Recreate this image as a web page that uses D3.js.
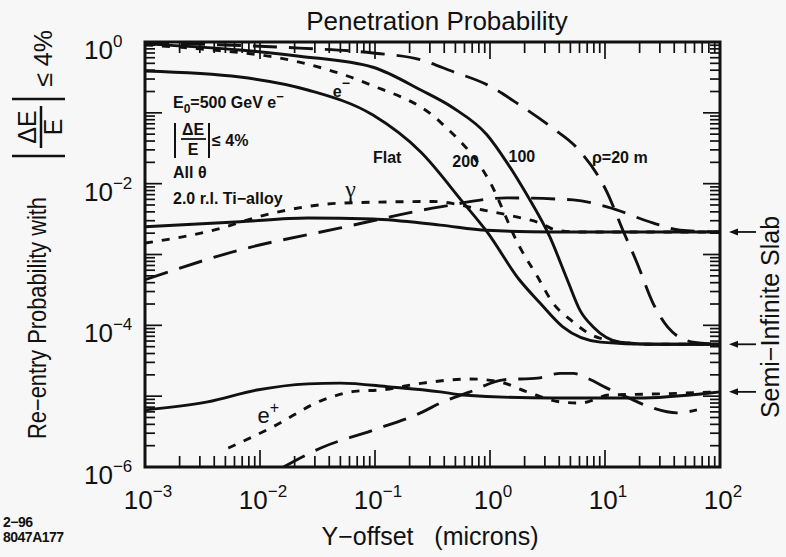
<!DOCTYPE html>
<html>
<head>
<meta charset="utf-8">
<script src="https://cdn.jsdelivr.net/npm/d3@7"></script>
<style>
body { margin: 0; background: #f7f7f7; }
svg { display: block; font-family: "Liberation Sans", Arial, Helvetica, sans-serif; }
.curve { fill: none; stroke: #111; stroke-width: 2.9; stroke-linejoin: round; }
.note { font-size: 16px; font-weight: bold; fill: #111; }
</style>
</head>
<body>
<svg id="chart" width="786" height="557"></svg>
<script>
// values: [Y-offset (microns), probability]
var eMinusFlat = [[1e-3, 0.39], [6.7e-3, 0.32], [0.026, 0.21], [0.096, 0.093], [0.25, 0.028],
	[0.58, 5.5e-3], [0.94, 2.1e-3], [1.8, 4.4e-4], [2.7, 2.1e-4], [4.3, 9.5e-5], [9.1, 5.8e-5],
	[25, 5.4e-5], [100, 5.4e-5]];
var eMinus200 = [[1e-3, 0.91], [3e-3, 0.8], [0.022, 0.52], [0.085, 0.26], [0.37, 0.074],
	[1.0, 0.0105], [1.8, 1.3e-3], [2.6, 4.8e-4], [3.5, 2.1e-4], [5.0, 1.2e-4], [9.0, 6.6e-5],
	[25, 5.4e-5], [100, 5.4e-5]];
var eMinus100 = [[1e-3, 0.94], [6.7e-3, 0.77], [0.022, 0.63], [0.096, 0.44], [0.25, 0.21],
	[0.48, 0.117], [0.94, 0.049], [1.4, 0.02], [2.1, 6.9e-3], [3.3, 1.8e-3], [4.7, 4.4e-4],
	[6.1, 1.6e-4], [7.9, 9.5e-5], [13.5, 5.8e-5], [30, 5.4e-5], [100, 5.4e-5]];
var eMinus20m = [[1e-3, 0.97], [0.022, 0.82], [0.096, 0.7], [0.25, 0.56], [0.48, 0.38],
	[0.94, 0.25], [1.8, 0.13], [3.5, 0.061], [5.7, 0.032], [10.4, 7.6e-3], [14.3, 2.2e-3],
	[19, 7.6e-4], [26, 2.1e-4], [35, 9.5e-5], [58, 5.8e-5], [100, 5.4e-5]];

var gammaFlat = [[1e-3, 2.47e-3], [6.7e-3, 2.9e-3], [0.026, 3.27e-3], [0.096, 3.17e-3],
	[0.37, 2.6e-3], [0.94, 2.2e-3], [3.5, 2.08e-3], [100, 2.08e-3]];
var gamma200 = [[1e-3, 1.45e-3], [3.5e-3, 2.1e-3], [0.013, 3.85e-3], [0.05, 5.3e-3],
	[0.32, 5.6e-3], [0.87, 4.25e-3], [1.7, 3.4e-3], [2.7, 2.8e-3], [3.8, 2.2e-3],
	[6.1, 2.08e-3], [100, 2.08e-3]];
var gamma20m = [[1e-3, 4.4e-4], [6.7e-3, 1.16e-3], [0.05, 2.37e-3], [0.37, 4.7e-3],
	[1.4, 6.3e-3], [5.3, 5.9e-3], [10.4, 4.7e-3], [26, 2.8e-3], [45, 2.2e-3], [100, 2.08e-3]];

var ePlusFlat = [[1e-3, 6.4e-6], [3.5e-3, 8.3e-6], [9.4e-3, 1.22e-5], [0.026, 1.49e-5],
	[0.05, 1.53e-5], [0.135, 1.35e-5], [0.37, 1.15e-5], [0.58, 1.04e-5], [3.5, 9.4e-6],
	[19, 9.4e-6], [82, 1.11e-5], [100, 1.15e-5]];
var ePlus200 = [[5.3e-3, 1.85e-6], [0.013, 3.7e-6], [0.035, 8.8e-6], [0.07, 1.18e-5],
	[0.11, 1.22e-5], [0.26, 1.53e-5], [0.67, 1.75e-5], [1.2, 1.6e-5], [2.1, 1.15e-5],
	[4.1, 8.3e-6], [6.1, 8.0e-6], [11, 1.04e-5], [25, 1.07e-5], [100, 1.15e-5]];
var ePlus20m = [[0.016, 1e-6], [0.035, 1.9e-6], [0.096, 3.3e-6], [0.26, 6.0e-6],
	[0.37, 8.0e-6], [0.67, 1.15e-5], [1.3, 1.7e-5], [2.6, 1.8e-5], [4.1, 2.1e-5],
	[5.3, 2.1e-5], [7.0, 1.8e-5], [10.4, 1.3e-5], [15.5, 9.7e-6], [26, 6.8e-6],
	[42, 5.8e-6], [63, 6.4e-6]];

// semi-infinite slab limits (arrows on the right)
var slabValues = [2.08e-3, 5.4e-5, 1.15e-5];

var xTickExps = [-3, -2, -1, 0, 1, 2];
var yTickExps = [0, -2, -4, -6];
var minorMults = [2, 3, 4, 5, 6, 7, 8, 9];

var curveLabels = [
	{ text: 'Flat', x: 0.096, y: 0.0196 },
	{ text: '200', x: 0.47, y: 0.0172 },
	{ text: '100', x: 1.45, y: 0.0204 },
	{ text: 'ρ=20 m', x: 7.7, y: 0.0196 }
];

var dashes = { solid: null, dotted: '8,9', long: '24,12' };
var curves = [
	{ data: eMinusFlat, style: 'solid' },
	{ data: eMinus200, style: 'dotted' },
	{ data: eMinus100, style: 'solid' },
	{ data: eMinus20m, style: 'long' },
	{ data: gammaFlat, style: 'solid' },
	{ data: gamma200, style: 'dotted' },
	{ data: gamma20m, style: 'long' },
	{ data: ePlusFlat, style: 'solid' },
	{ data: ePlus200, style: 'dotted' },
	{ data: ePlus20m, style: 'long' }
];

var svg = d3.select('#chart');
var margin = { top: 42, right: 66, bottom: 90, left: 145 };
var width = 786, height = 557;
var plotL = margin.left, plotR = width - margin.right;
var plotT = margin.top, plotB = height - margin.bottom;

var x = d3.scaleLog().domain([1e-3, 1e2]).range([plotL, plotR]);
var y = d3.scaleLog().domain([1e-6, 1]).range([plotB, plotT]);

// decade + minor tick values inside a domain
function logTicks(lo, hi) {
	var out = [];
	for (var e = lo; e <= hi; e++) {
		out.push({ v: Math.pow(10, e), major: true });
		if (e < hi) minorMults.forEach(function(m) { out.push({ v: m * Math.pow(10, e), major: false }); });
	}
	return out;
}

svg.append('rect').attr('width', width).attr('height', height).attr('fill', '#f7f7f7');

svg.append('clipPath').attr('id', 'plotClip')
	.append('rect').attr('x', plotL).attr('y', plotT).attr('width', plotR - plotL).attr('height', plotB - plotT);

// ticks, all pointing inward
var tickG = svg.append('g').attr('stroke', '#111').attr('stroke-width', 1.7);
logTicks(-3, 2).forEach(function(t) {
	var len = t.major ? 17 : 11;
	tickG.append('line').attr('x1', x(t.v)).attr('x2', x(t.v)).attr('y1', plotB).attr('y2', plotB - len);
	tickG.append('line').attr('x1', x(t.v)).attr('x2', x(t.v)).attr('y1', plotT).attr('y2', plotT + len);
});
logTicks(-6, 0).forEach(function(t) {
	var len = t.major ? 17 : 10;
	tickG.append('line').attr('x1', plotL).attr('x2', plotL + len).attr('y1', y(t.v)).attr('y2', y(t.v));
	tickG.append('line').attr('x1', plotR).attr('x2', plotR - len).attr('y1', y(t.v)).attr('y2', y(t.v));
});

// curves
var line = d3.line()
	.x(function(d) { return x(d[0]); })
	.y(function(d) { return y(d[1]); })
	.curve(d3.curveMonotoneX);

svg.append('g').attr('clip-path', 'url(#plotClip)')
	.selectAll('path')
	.data(curves)
	.enter().append('path')
	.attr('class', 'curve')
	.attr('d', function(d) { return line(d.data); })
	.attr('stroke-dasharray', function(d) { return dashes[d.style]; });

// frame
svg.append('rect').attr('x', plotL).attr('y', plotT).attr('width', plotR - plotL).attr('height', plotB - plotT)
	.attr('fill', 'none').attr('stroke', '#111').attr('stroke-width', 3);

// tick labels
function supLabel(sel, e) {
	sel.append('tspan').text('10');
	sel.append('tspan').attr('dy', -12).attr('font-size', 17).text(e < 0 ? '−' + (-e) : e);
}
xTickExps.forEach(function(e) {
	var t = svg.append('text').attr('x', x(Math.pow(10, e)) + 3).attr('y', plotB + 42)
		.attr('text-anchor', 'middle').attr('font-size', 26).attr('fill', '#111');
	supLabel(t, e);
});
yTickExps.forEach(function(e) {
	var t = svg.append('text').attr('x', 84).attr('y', y(Math.pow(10, e)) + 17)
		.attr('font-size', 26).attr('fill', '#111');
	supLabel(t, e);
});

// titles
svg.append('text').attr('x', 437).attr('y', 30).attr('text-anchor', 'middle')
	.attr('font-size', 26).attr('fill', '#111').text('Penetration Probability');
svg.append('text').attr('x', 430).attr('y', 545).attr('text-anchor', 'middle')
	.attr('font-size', 25).attr('fill', '#111').style('white-space', 'pre')
	.text('Y−offset   (microns)');

// y axis title with |ΔE/E| fraction
var yt = svg.append('g').attr('transform', 'translate(46,0) rotate(-90)')
	.attr('font-size', 25).attr('fill', '#111');
yt.append('text').attr('x', -197).attr('y', 0).attr('text-anchor', 'end')
	.attr('textLength', 242).attr('lengthAdjust', 'spacingAndGlyphs')
	.text('Re−entry Probability with');
[-156, -99].forEach(function(lx) {
	yt.append('line').attr('x1', lx).attr('x2', lx).attr('y1', -34).attr('y2', 19)
		.attr('stroke', '#111').attr('stroke-width', 2.5);
});
yt.append('text').attr('x', -127).attr('y', -10).attr('text-anchor', 'middle').text('ΔE');
yt.append('line').attr('x1', -148).attr('x2', -106).attr('y1', -5).attr('y2', -5)
	.attr('stroke', '#111').attr('stroke-width', 2.5);
yt.append('text').attr('x', -127).attr('y', 16).attr('text-anchor', 'middle').text('E');
yt.append('text').attr('x', -30).attr('y', 6).attr('text-anchor', 'end').text('≤ 4%');

// right side label and slab arrows
svg.append('text').attr('transform', 'translate(779,317) rotate(-90)')
	.attr('text-anchor', 'middle').attr('font-size', 25).attr('fill', '#111')
	.text('Semi−Infinite Slab');
var arrows = svg.append('g').selectAll('g').data(slabValues).enter().append('g');
arrows.append('line').attr('x1', 733).attr('x2', 756)
	.attr('y1', function(d) { return y(d); }).attr('y2', function(d) { return y(d); })
	.attr('stroke', '#111').attr('stroke-width', 1.8);
arrows.append('path').attr('fill', '#111')
	.attr('d', function(d) { var yy = y(d); return 'M729,' + yy + 'L738,' + (yy - 3.5) + 'L738,' + (yy + 3.5) + 'Z'; });

// annotation block
var note = svg.append('g').attr('class', 'note');
var t1 = note.append('text').attr('class', 'note').attr('x', 173).attr('y', 108);
t1.append('tspan').text('E');
t1.append('tspan').attr('dy', 5).attr('font-size', 12).text('0');
t1.append('tspan').attr('dy', -5).text('=500 GeV e');
t1.append('tspan').attr('dy', -7).attr('font-size', 13).text('−');
[175, 209].forEach(function(bx) {
	note.append('line').attr('x1', bx).attr('x2', bx).attr('y1', 123).attr('y2', 158)
		.attr('stroke', '#111').attr('stroke-width', 2);
});
note.append('text').attr('class', 'note').attr('x', 193).attr('y', 135).attr('font-size', 14)
	.attr('text-anchor', 'middle').text('ΔE');
note.append('line').attr('x1', 181).attr('x2', 206).attr('y1', 139).attr('y2', 139)
	.attr('stroke', '#111').attr('stroke-width', 1.8);
note.append('text').attr('class', 'note').attr('x', 193).attr('y', 155).attr('font-size', 14)
	.attr('text-anchor', 'middle').text('E');
note.append('text').attr('class', 'note').attr('x', 212).attr('y', 146).text('≤ 4%');
note.append('text').attr('class', 'note').attr('x', 173).attr('y', 178).text('All θ');
note.append('text').attr('class', 'note').attr('x', 173).attr('y', 204).text('2.0 r.l. Ti−alloy');

// curve labels
svg.append('g').selectAll('text').data(curveLabels).enter().append('text')
	.attr('class', 'note').attr('font-size', 17)
	.attr('x', function(d) { return x(d.x); })
	.attr('y', function(d) { return y(d.y); })
	.text(function(d) { return d.text; });

var em = svg.append('text').attr('class', 'note').attr('font-size', 18)
	.attr('x', x(0.043)).attr('y', y(0.167));
em.append('tspan').text('e');
em.append('tspan').attr('dy', -9).attr('font-size', 14).text('−');

var ep = svg.append('text').attr('font-size', 22).attr('fill', '#111')
	.attr('x', x(0.0095)).attr('y', y(4.2e-6));
ep.append('tspan').text('e');
ep.append('tspan').attr('dy', -10).attr('font-size', 16).text('+');

svg.append('text').attr('x', x(0.055)).attr('y', y(6.5e-3))
	.attr('font-family', '"Liberation Serif", serif').attr('font-size', 24).attr('fill', '#111')
	.text('γ');

// plot id
svg.append('text').attr('x', 3).attr('y', 527).attr('font-size', 14).attr('font-weight', 'bold')
	.attr('fill', '#111').attr('letter-spacing', -0.5).text('2−96');
svg.append('text').attr('x', 3).attr('y', 542).attr('font-size', 14).attr('font-weight', 'bold')
	.attr('fill', '#111').attr('letter-spacing', -0.5).text('8047A177');
</script>
</body>
</html>
